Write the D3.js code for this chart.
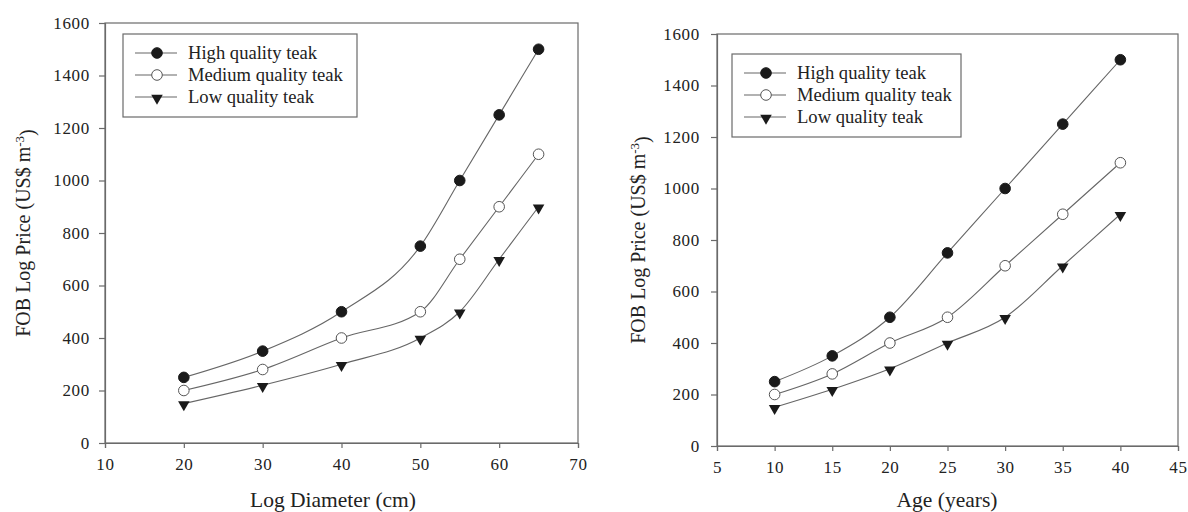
<!DOCTYPE html>
<html>
<head>
<meta charset="utf-8">
<script src="https://cdn.jsdelivr.net/npm/d3@7/dist/d3.min.js"></script>
<style>
  html, body { margin: 0; padding: 0; background: #fff; }
  svg { display: block; }
  svg text { font-family: "Liberation Serif", "Times New Roman", Times, "DejaVu Serif", serif !important; fill: #222; }
</style>
</head>
<body>
<svg id="chart" width="1188" height="512"></svg>
<script>
// ---- Data ----
const seriesNames = ["High quality teak", "Medium quality teak", "Low quality teak"];

const diameterX = [20, 30, 40, 50, 55, 60, 65];
const diamHigh   = [250, 350, 500, 750, 1000, 1250, 1500];
const diamMedium = [200, 280, 400, 500, 700, 900, 1100];
const diamLow    = [150, 220, 300, 400, 500, 700, 900];

const ageX = [10, 15, 20, 25, 30, 35, 40];
const ageHigh   = [250, 350, 500, 750, 1000, 1250, 1500];
const ageMedium = [200, 280, 400, 500, 700, 900, 1100];
const ageLow    = [150, 220, 300, 400, 500, 700, 900];

const diamTicks = [10, 20, 30, 40, 50, 60, 70];
const ageTicks = [5, 10, 15, 20, 25, 30, 35, 40, 45];
const priceTicks = [0, 200, 400, 600, 800, 1000, 1200, 1400, 1600];

const FONT = '"Liberation Serif", "Times New Roman", Times, serif';
const svg = d3.select("#chart");

function drawPanel(cfg) {
  const x = d3.scaleLinear().domain(cfg.xDomain).range([cfg.left, cfg.right]);
  const y = d3.scaleLinear().domain([0, 1600]).range([cfg.bottom, cfg.top]);
  const g = svg.append("g");

  // frame
  g.append("rect")
    .attr("x", cfg.left).attr("y", cfg.top)
    .attr("width", cfg.right - cfg.left).attr("height", cfg.bottom - cfg.top)
    .attr("fill", "none").attr("stroke", "#6a6a6a").attr("stroke-width", 1.2);

  // axes
  const xAxis = d3.axisBottom(x).tickValues(cfg.xTicks).tickSize(5).tickPadding(10).tickFormat(d3.format("d"));
  const yAxis = d3.axisLeft(y).tickValues(priceTicks).tickSize(6).tickPadding(cfg.yPad).tickFormat(d3.format("d"));

  const gx = g.append("g").attr("transform", `translate(0,${cfg.bottom})`).call(xAxis);
  const gy = g.append("g").attr("transform", `translate(${cfg.left},0)`).call(yAxis);
  [gx, gy].forEach(a => {
    a.attr("font-family", FONT).attr("font-size", 17);
    a.select(".domain").attr("stroke", "#6a6a6a").attr("stroke-width", 1.2);
    a.selectAll(".tick line").attr("stroke", "#6a6a6a").attr("stroke-width", 1.2);
    a.selectAll(".tick text")
      .attr("font-family", FONT)
      .style("font-size", "17px")
      .style("letter-spacing", "0.7px")
      .attr("fill", "#2a2a2a");
  });
  gx.selectAll(".tick text").attr("dy", "0.71em");

  // titles
  g.append("text")
    .attr("x", cfg.xTitleX).attr("y", 507)
    .attr("text-anchor", "middle")
    .attr("font-family", FONT)
    .style("font-size", "21.5px")
    .text(cfg.xTitle);

  const yt = g.append("text")
    .attr("transform", `translate(${cfg.yTitleX},${(cfg.top + cfg.bottom) / 2}) rotate(-90)`)
    .attr("text-anchor", "middle")
    .attr("font-family", FONT)
    .style("font-size", "20px");
  yt.append("tspan").text("FOB Log Price (US$ m");
  yt.append("tspan").attr("dy", "-0.5em").style("font-size", "13px").text("-3");
  yt.append("tspan").attr("dy", "0.5em").text(")");

  // series
  const line = d3.line().x(d => x(d[0])).y(d => y(d[1])).curve(d3.curveMonotoneX);
  cfg.series.forEach((vals, i) => {
    const pts = cfg.xs.map((xv, j) => [xv, vals[j]]);
    g.append("path").datum(pts)
      .attr("d", line)
      .attr("fill", "none").attr("stroke", "#666").attr("stroke-width", 1.1);
    drawMarkers(g, pts.map(p => [x(p[0]), y(p[1])]), i);
  });

  // legend
  const lg = g.append("g");
  lg.append("rect")
    .attr("x", cfg.legX).attr("y", cfg.legY)
    .attr("width", cfg.legW).attr("height", 83)
    .attr("fill", "#fff").attr("stroke", "#6a6a6a").attr("stroke-width", 1.2);
  seriesNames.forEach((name, i) => {
    const ry = cfg.legY + 19 + i * 22;
    lg.append("line")
      .attr("x1", cfg.legX + 12).attr("x2", cfg.legX + 54)
      .attr("y1", ry).attr("y2", ry)
      .attr("stroke", "#666").attr("stroke-width", 1.1);
    drawMarkers(lg, [[cfg.legX + 34, ry]], i);
    lg.append("text")
      .attr("x", cfg.legX + 65).attr("y", ry)
      .attr("dy", "0.33em")
      .attr("font-family", FONT)
      .style("font-size", "18.6px")
      .text(name);
  });
}

function drawMarkers(g, pts, i) {
  if (i === 2) {
    const tri = d3.symbol().type(d3.symbolTriangle).size(58);
    g.selectAll(null).data(pts).enter().append("path")
      .attr("d", tri)
      .attr("transform", d => `translate(${d[0]},${d[1] + 1}) rotate(180)`)
      .attr("fill", "#1a1a1a");
  } else {
    g.selectAll(null).data(pts).enter().append("circle")
      .attr("cx", d => d[0]).attr("cy", d => d[1]).attr("r", 5.3)
      .attr("fill", i === 0 ? "#1a1a1a" : "#fff")
      .attr("stroke", i === 0 ? "#1a1a1a" : "#555")
      .attr("stroke-width", 1);
  }
}

drawPanel({
  left: 105, right: 578, top: 23, bottom: 443,
  xDomain: [10, 70], xTicks: diamTicks, xs: diameterX,
  series: [diamHigh, diamMedium, diamLow],
  xTitle: "Log Diameter (cm)", xTitleX: 333, yTitleX: 30, yPad: 9,
  legX: 123, legY: 34, legW: 234
});

drawPanel({
  left: 717, right: 1178, top: 34, bottom: 446,
  xDomain: [5, 45], xTicks: ageTicks, xs: ageX,
  series: [ageHigh, ageMedium, ageLow],
  xTitle: "Age (years)", xTitleX: 947, yTitleX: 645, yPad: 11,
  legX: 732, legY: 54, legW: 229
});
</script>
</body>
</html>
